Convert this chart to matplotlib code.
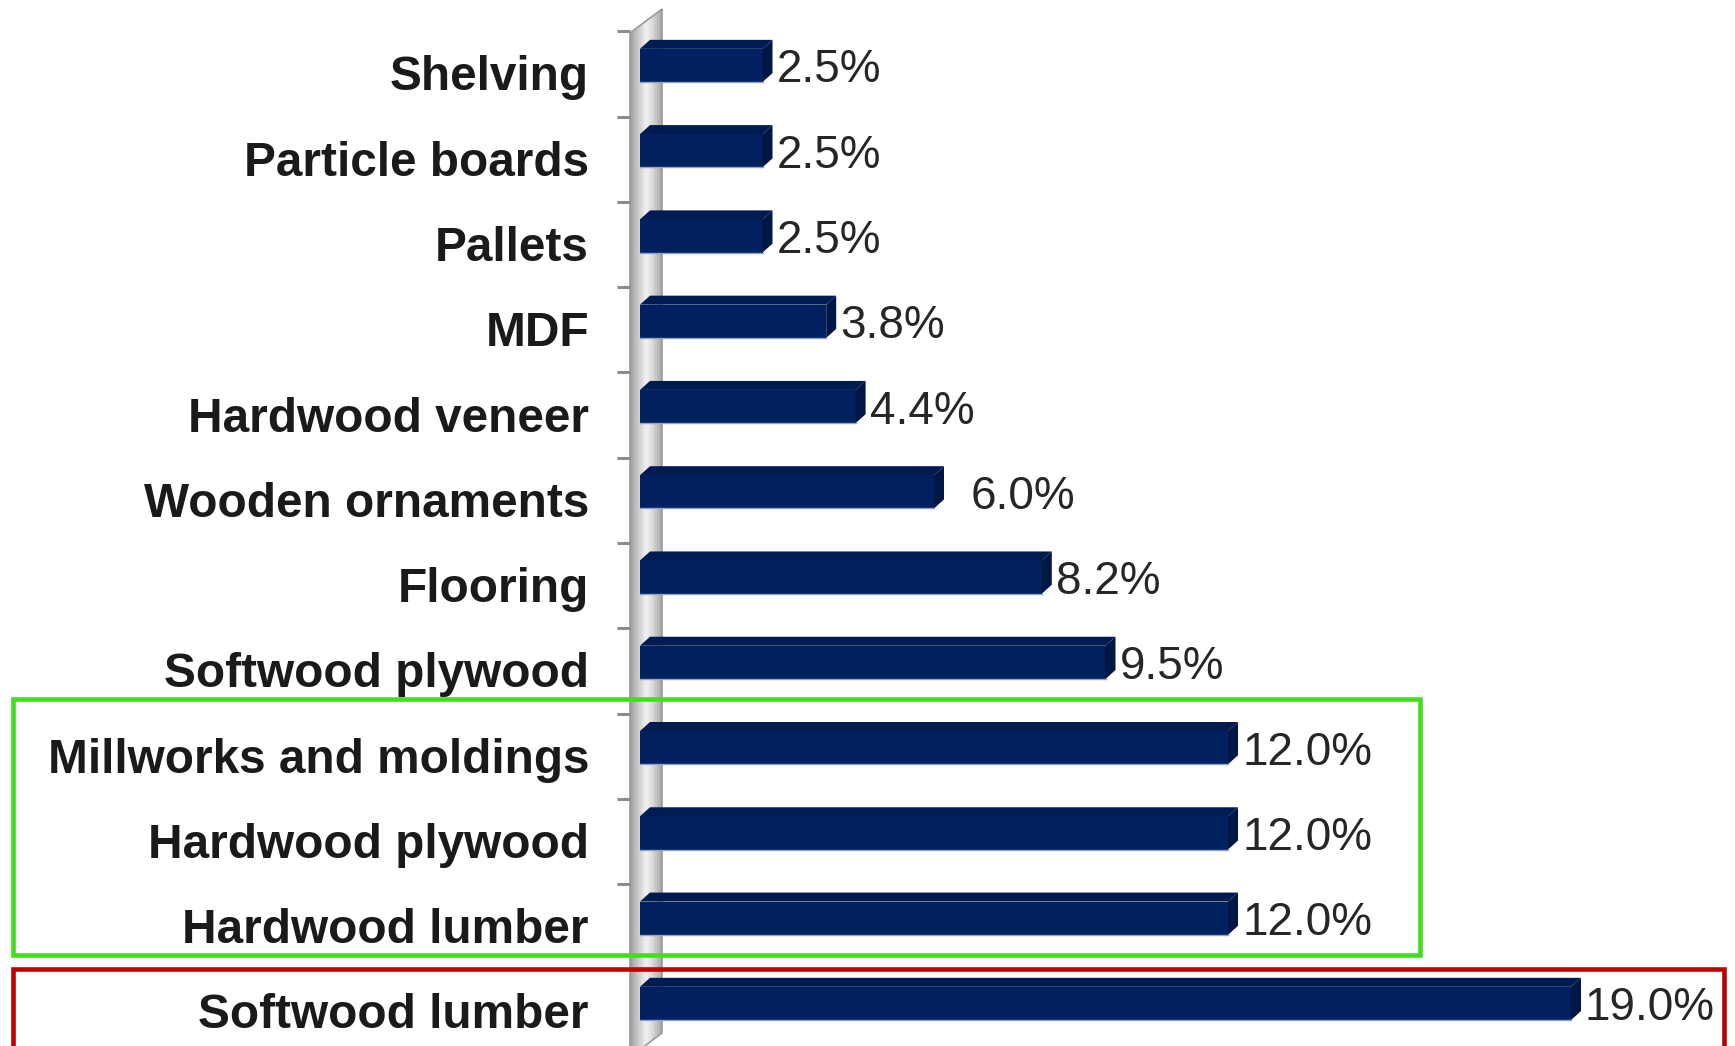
import numpy as np
import matplotlib
matplotlib.use('Agg')
import matplotlib.pyplot as plt
from matplotlib.patches import Polygon, Rectangle
from matplotlib.colors import LinearSegmentedColormap

categories = ['Shelving', 'Particle boards', 'Pallets', 'MDF', 'Hardwood veneer',
              'Wooden ornaments', 'Flooring', 'Softwood plywood',
              'Millworks and moldings', 'Hardwood plywood', 'Hardwood lumber',
              'Softwood lumber']
values = [2.5, 2.5, 2.5, 3.8, 4.4, 6.0, 8.2, 9.5, 12.0, 12.0, 12.0, 19.0]
value_labels = ['2.5%', '2.5%', '2.5%', '3.8%', '4.4%', '6.0%', '8.2%', '9.5%',
                '12.0%', '12.0%', '12.0%', '19.0%']

plt.rcParams['font.family'] = ['Liberation Sans', 'DejaVu Sans']

W, H = 1735, 1046
fig = plt.figure(figsize=(W / 100, H / 100), dpi=100)
ax = fig.add_axes([0, 0, 1, 1])

# pixel geometry of the original
x0_px, px_per_unit = 640, 49.0
y0_px, px_per_cat = 74, 85.27
ax.set_xlim(-x0_px / px_per_unit, (W - x0_px) / px_per_unit)
ax.set_ylim((H - y0_px) / px_per_cat, -y0_px / px_per_cat)
ax.axis('off')

def px(x, y):
    return (x - x0_px) / px_per_unit, (y - y0_px) / px_per_cat

# gray 3d wall
wall = Polygon([px(630, 33), px(662, 9), px(662, 1033), px(630, 1057)],
               closed=True, facecolor='none', edgecolor='#9a9a9a', lw=1.2, zorder=2)
ax.add_patch(wall)
cmap = LinearSegmentedColormap.from_list('wall', ['#9c9c9c', '#bdbdbd', '#d6d6d6', '#f2f2f2',
                                                  '#e0e0e0', '#c4c4c4', '#a6a6a6'])
grad = np.linspace(0, 1, 64).reshape(1, -1)
(wx0, wy0), (wx1, wy1) = px(630, 0), px(662, H + 20)
im = ax.imshow(grad, cmap=cmap, extent=(wx0, wx1, wy1, wy0), aspect='auto', zorder=1)
im.set_clip_path(wall)

# ticks on the wall
n = len(categories)
for b in np.arange(-0.5, n, 1.0):
    ax.plot([px(617, 0)[0], px(630, 0)[0]], [b, b], color='#8c8c8c', lw=2.2,
            solid_capstyle='butt', zorder=2)

# bars with a small 3d look
y = np.arange(n) - 0.1
h = 0.39
dx, dy = 10 / px_per_unit, -9 / px_per_cat
ax.barh(y, values, height=h, color='#002060', zorder=4)
for yi, v in zip(y, values):
    yt, yb = yi - h / 2, yi + h / 2
    ax.add_patch(Polygon([(0, yt), (dx, yt + dy), (v + dx, yt + dy), (v, yt)],
                         facecolor='#001b50', edgecolor='none', zorder=4))
    ax.add_patch(Polygon([(v, yt), (v + dx, yt + dy), (v + dx, yb + dy), (v, yb)],
                         facecolor='#001644', edgecolor='none', zorder=4))
    ax.plot([0, v], [yb, yb], color='#8fa3c8', lw=1, zorder=5)

# value labels
for yi, v, lab in zip(y, values, value_labels):
    pad = 27 if lab == '6.0%' else 4
    ax.annotate(lab, (v + dx, yi), xytext=(pad, -5), textcoords='offset pixels',
                ha='left', va='center', fontsize=33, color='#262626', zorder=6)

# category labels
for i, c in enumerate(categories):
    ax.annotate(c, (0, i), xytext=(-51, -4), textcoords='offset pixels',
                ha='right', va='center', fontsize=34.4, fontweight='bold',
                color='#1a1a1a', zorder=6)

# highlight boxes
fig.add_artist(Rectangle((12.5 / W, 1 - 955 / H), (1420 - 12.5) / W, (955 - 699) / H,
                         transform=fig.transFigure, fill=False, edgecolor='#44dd1a',
                         lw=3.3, zorder=10))
fig.add_artist(Rectangle((12.5 / W, -0.05), (1724 - 12.5) / W, 1 - 969 / H + 0.05,
                         transform=fig.transFigure, fill=False, edgecolor='#c00000',
                         lw=3.3, zorder=10))

fig.savefig('out.png', dpi=100)
